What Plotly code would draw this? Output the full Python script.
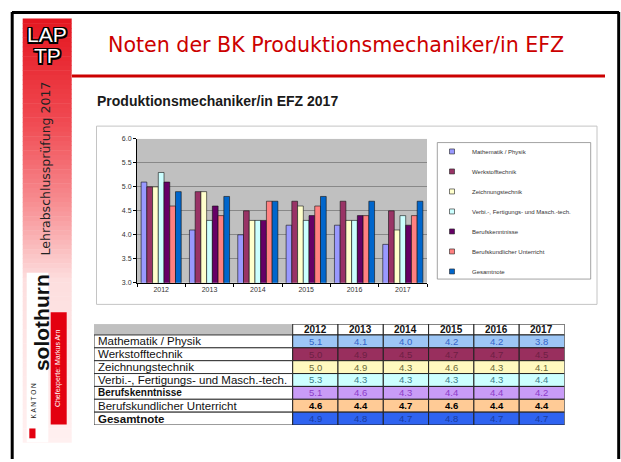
import plotly.graph_objects as go

# ---------------- data ----------------
years = ["2012", "2013", "2014", "2015", "2016", "2017"]
subjects = [
    "Mathematik / Physik",
    "Werkstofftechnik",
    "Zeichnungstechnik",
    "Verbi.-, Fertigungs- und Masch.-tech.",
    "Berufskenntnisse",
    "Berufskundlicher Unterricht",
    "Gesamtnote",
]
mathematik = [5.1, 4.1, 4.0, 4.2, 4.2, 3.8]
werkstoff = [5.0, 4.9, 4.5, 4.7, 4.7, 4.5]
zeichnung = [5.0, 4.9, 4.3, 4.6, 4.3, 4.1]
verbi = [5.3, 4.3, 4.3, 4.3, 4.3, 4.4]
berufskenntnisse = [5.1, 4.6, 4.3, 4.4, 4.4, 4.2]
berufskundlich = [4.6, 4.4, 4.7, 4.6, 4.4, 4.4]
gesamtnote = [4.9, 4.8, 4.7, 4.8, 4.7, 4.7]
series = [mathematik, werkstoff, zeichnung, verbi, berufskenntnisse, berufskundlich, gesamtnote]

# ---------------- styles ----------------
bar_colors = ["#9999FF", "#993366", "#FFFFCC", "#CCFFFF", "#660066", "#FF8080", "#0066CC"]
row_fill = ["#9DC6F5", "#992F5E", "#FFF9BF", "#CCFFFF", "#C99CF7", "#FFCB96", "#2F63F0"]
row_text = ["#3465C8", "#6E1F44", "#6A6A3A", "#3D7E88", "#8C3DC8", "#000000", "#1B3C9C"]
label_size = [11.5, 11.5, 11.5, 11.5, 10, 11.5, 11.5]
label_bold = [False, False, False, False, True, False, True]
value_bold = [False, False, False, False, False, True, False]

W, H = 621, 462
def px(x):
    return x / W
def py(y):
    return 1 - y / H

fig = go.Figure()

for name, vals, col in zip(subjects, series, bar_colors):
    fig.add_trace(go.Bar(
        x=years, y=vals, name=name, marker=dict(color=col, line=dict(color="#111", width=0.6)),
        showlegend=False, hoverinfo="x+y+name"))

for i, (name, col) in enumerate(zip(subjects, bar_colors)):
    fig.add_trace(go.Scatter(
        x=[None], y=[None], mode="markers", name=name, legendgroup=f"g{i}",
        marker=dict(symbol="square", size=5, color=col, line=dict(color="#222", width=0.6)),
        showlegend=True))

# dummy trace for the table subplot
fig.add_trace(go.Scatter(x=[None], y=[None], xaxis="x2", yaxis="y2", showlegend=False, hoverinfo="skip"))

shapes = []
annotations = []

# ---------------- slide decorations ----------------
stops = [(14.7, (228, 22, 32)), (120, (240, 74, 82)), (200, (247, 140, 144)),
         (280, (253, 222, 222)), (445, (255, 240, 240))]
def grad(y):
    for (y0, c0), (y1, c1) in zip(stops[:-1], stops[1:]):
        if y0 <= y <= y1:
            t = (y - y0) / (y1 - y0)
            return "rgb(%d,%d,%d)" % tuple(round(a + (b - a) * t) for a, b in zip(c0, c1))
    return "rgb(%d,%d,%d)" % stops[-1][1]

n = 90
top, bot = 14.7, 445
step = (bot - top) / n
for k in range(n):
    y0 = top + k * step
    shapes.append(dict(type="rect", xref="paper", yref="paper", x0=px(22.7), x1=px(71.7),
                       y0=py(y0 + step + 0.5), y1=py(y0), fillcolor=grad(y0 + step / 2),
                       line=dict(width=0), layer="below"))

shapes.append(dict(type="rect", xref="paper", yref="paper", x0=px(26.7), x1=px(48.3),
                   y0=py(445), y1=py(273), fillcolor="white", line=dict(width=0), layer="below"))
shapes.append(dict(type="rect", xref="paper", yref="paper", x0=px(50.7), x1=px(66.7),
                   y0=py(427), y1=py(313), fillcolor="#E3000F", line=dict(width=0), layer="below"))
shapes.append(dict(type="rect", xref="paper", yref="paper", x0=px(29.3), x1=px(35.5),
                   y0=py(441), y1=py(431), fillcolor="#E3000F", line=dict(width=0), layer="below"))

for (x0, y0, x1, y1) in [(12.2, 8, 12.2, 462), (12, 8.7, 619, 8.7), (618.7, 8, 618.7, 462)]:
    shapes.append(dict(type="line", xref="paper", yref="paper", x0=px(x0), x1=px(x1),
                       y0=py(y0), y1=py(y1), line=dict(color="black", width=3)))

shapes.append(dict(type="line", xref="paper", yref="paper", x0=px(72), x1=px(605),
                   y0=py(73), y1=py(73), line=dict(color="#CC0000", width=3)))

shapes.append(dict(type="rect", xref="paper", yref="paper", x0=px(96.5), x1=px(597),
                   y0=py(305), y1=py(124), line=dict(color="#C4C4C4", width=1), layer="below"))
shapes.append(dict(type="rect", xref="paper", yref="paper", x0=px(437.3), x1=px(590.7),
                   y0=py(279.3), y1=py(140.7), line=dict(color="#8C8C8C", width=0.8), layer="below"))

outline = "-1.5px -1.5px 0 #000, 1.5px -1.5px 0 #000, -1.5px 1.5px 0 #000, 1.5px 1.5px 0 #000, 0 1.5px 0 #000, 0 -1.5px 0 #000, 1.5px 0 0 #000, -1.5px 0 0 #000"
annotations.append(dict(text="LAP", xref="paper", yref="paper", x=px(47), y=py(30.5),
                        showarrow=False, xanchor="center", yanchor="middle",
                        font=dict(family="Liberation Sans", size=21, color="white", shadow=outline)))
annotations.append(dict(text="TP", xref="paper", yref="paper", x=px(47), y=py(52.5),
                        showarrow=False, xanchor="center", yanchor="middle",
                        font=dict(family="Liberation Sans", size=21, color="white", shadow=outline)))
annotations.append(dict(text="Lehrabschlussprüfung 2017", xref="paper", yref="paper", x=px(45), y=py(167),
                        showarrow=False, xanchor="center", yanchor="middle", textangle=-90,
                        font=dict(family="DejaVu Sans", size=12.5, color="#222")))
annotations.append(dict(text="<b>solothurn</b>", xref="paper", yref="paper", x=px(41), y=py(324),
                        showarrow=False, xanchor="center", yanchor="middle", textangle=-90,
                        font=dict(family="Liberation Sans", size=21, color="#111")))
annotations.append(dict(text="K A N T O N", xref="paper", yref="paper", x=px(33.5), y=py(403),
                        showarrow=False, xanchor="center", yanchor="middle", textangle=-90,
                        font=dict(family="Liberation Sans", size=6.5, color="#222")))
annotations.append(dict(text="Chefexperte: Markus Arn", xref="paper", yref="paper", x=px(58.7), y=py(370),
                        showarrow=False, xanchor="center", yanchor="middle", textangle=-90,
                        font=dict(family="Liberation Sans", size=7, color="white")))

annotations.append(dict(text="Noten der BK Produktionsmechaniker/in EFZ", xref="paper", yref="paper",
                        x=px(106), y=py(42), showarrow=False, xanchor="left", yanchor="middle",
                        font=dict(family="DejaVu Sans", size=20.6, color="#CC0000")))
annotations.append(dict(text="<b>Produktionsmechaniker/in EFZ 2017</b>", xref="paper", yref="paper",
                        x=px(95), y=py(98), showarrow=False, xanchor="left", yanchor="middle",
                        font=dict(family="Liberation Sans", size=14, color="#1A1A1A")))

# ---------------- table (on its own axes x2/y2) ----------------
label_w = 4.386
hdr = -0.846
ncol = len(years)
for j, yr in enumerate(years):
    shapes.append(dict(type="rect", xref="x2", yref="y2", x0=j, x1=j + 1, y0=hdr, y1=0,
                       fillcolor="white", line=dict(color="#222", width=1)))
    annotations.append(dict(text="<b>%s</b>" % yr, xref="x2", yref="y2", x=j + 0.5, y=hdr / 2,
                            showarrow=False, xanchor="center", yanchor="middle",
                            font=dict(family="Liberation Sans", size=10, color="#111")))
for i, (name, vals) in enumerate(zip(subjects, series)):
    shapes.append(dict(type="rect", xref="x2", yref="y2", x0=-label_w, x1=0, y0=i, y1=i + 1,
                       fillcolor="white", line=dict(color="#333", width=1)))
    lt = "<b>%s</b>" % name if label_bold[i] else name
    annotations.append(dict(text=lt, xref="x2", yref="y2", x=-label_w + 0.04, y=i + 0.5,
                            showarrow=False, xanchor="left", yanchor="middle",
                            font=dict(family="Liberation Sans", size=label_size[i], color="#111")))
    for j, v in enumerate(vals):
        shapes.append(dict(type="rect", xref="x2", yref="y2", x0=j, x1=j + 1, y0=i, y1=i + 1,
                           fillcolor=row_fill[i], line=dict(color="#222", width=1)))
        vt = "%.1f" % v
        if value_bold[i]:
            vt = "<b>%s</b>" % vt
        annotations.append(dict(text=vt, xref="x2", yref="y2", x=j + 0.5, y=i + 0.5,
                                showarrow=False, xanchor="center", yanchor="middle",
                                font=dict(family="Liberation Sans", size=9.5, color=row_text[i])))

fig.update_layout(
    width=W, height=H, margin=dict(l=0, r=0, t=0, b=0),
    paper_bgcolor="white", plot_bgcolor="#C0C0C0",
    barmode="group", bargap=0.17, bargroupgap=0,
    font=dict(family="Liberation Sans", color="#333"),
    showlegend=True,
    legend=dict(x=px(432), y=py(135), xanchor="left", yanchor="top",
                bgcolor="rgba(0,0,0,0)", borderwidth=0, traceorder="grouped", tracegroupgap=1,
                font=dict(family="Liberation Sans", size=6, color="#333"), itemwidth=30),
    xaxis=dict(domain=[px(137), px(427)], type="category", showgrid=False, showline=True,
               linecolor="#000", linewidth=1, ticks="outside", tickson="boundaries", ticklen=3,
               tickcolor="#000", tickfont=dict(size=7, color="#333"), anchor="y", fixedrange=True),
    yaxis=dict(domain=[py(283), py(137)], range=[3, 6], dtick=0.5, tickformat=".1f",
               showgrid=True, gridcolor="#888888", gridwidth=1, showline=True, linecolor="#000",
               linewidth=1, ticks="outside", ticklen=3, tickcolor="#000", zeroline=False,
               tickfont=dict(size=7, color="#333"), anchor="x", fixedrange=True),
    xaxis2=dict(domain=[px(94), px(564.5)], range=[-label_w, ncol], visible=False, anchor="y2",
                fixedrange=True),
    yaxis2=dict(domain=[py(427.5), py(325)], range=[len(subjects), hdr], visible=False, anchor="x2",
                fixedrange=True),
    shapes=shapes, annotations=annotations,
)

fig.write_html("out.html", config={"displayModeBar": False},
               post_script="document.body.style.margin='0';document.body.style.overflow='hidden';")
